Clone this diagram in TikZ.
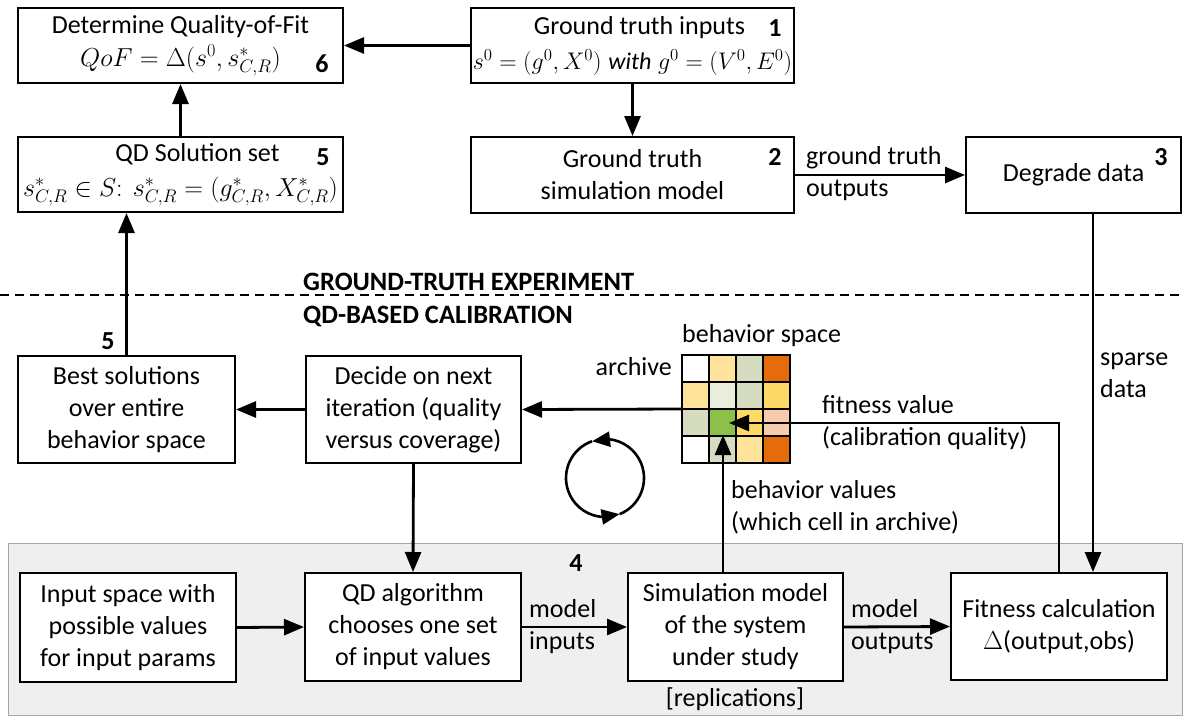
\RequirePackage{fix-cm}
\documentclass[tikz,border=0pt]{standalone}
\usepackage{fontspec}
\setmainfont{Carlito}
\usetikzlibrary{arrows.meta,calc,bending}
\definecolor{lor}{HTML}{FFE39B}
\definecolor{gg}{HTML}{D6DCBF}
\definecolor{vlg}{HTML}{E9EDDC}
\definecolor{dor}{HTML}{E46C0A}
\definecolor{yel}{HTML}{FFD966}
\definecolor{pch}{HTML}{F8CBAD}
\definecolor{grn}{HTML}{8CC04B}
\definecolor{panelfill}{HTML}{EFEFEF}
\definecolor{paneldraw}{HTML}{A6A6A6}
\begin{document}
\begin{tikzpicture}[x=1pt,y=-1pt,
  every node/.style={font=\fontsize{26}{32}\selectfont},
  box/.style={draw, line width=2pt, fill=white, inner sep=0pt, align=center},
  arr/.style={line width=2.8pt, -{Triangle[length=20pt,width=16pt]}},
  carr/.style={line width=2.6pt, -{Triangle[length=18pt,width=15pt,flex]}},
  num/.style={font=\fontsize{26}{32}\selectfont\bfseries, inner sep=0pt},
  lbl/.style={align=left, anchor=west, inner sep=0pt},
  ttl/.style={font=\fontsize{26.5}{32}\selectfont\bfseries, anchor=west, inner sep=0pt},
]
\useasboundingbox (0,0) rectangle (1183,716);

% panel of step 4
\draw[draw=paneldraw, fill=panelfill, line width=1pt] (8,543) rectangle (1182,715);

% dashed separator
\draw[line width=1.5pt, dash pattern=on 9pt off 6pt] (0,295) -- (1183,295);
\node[ttl] (t1) at (303,282) {GROUND-TRUTH EXPERIMENT};
\node[ttl] (t2) at (303,316) {QD-BASED CALIBRATION};

% top boxes
\node[box, minimum width=325, minimum height=75] (b6) at (180.5,45.5)
  {Determine Quality-of-Fit\\[1pt]$QoF=\Delta(s^0{,}\,s^*_{C,R})$};
\node[box, minimum width=323, minimum height=75] (b1) at (632.5,45.5)
  {\hspace*{14pt}Ground truth inputs\\[3pt]{\fontsize{24}{30}\selectfont$s^0=(g^0{,}\,X^0)\;\mathit{with}\;g^0=(V^0{,}\,E^0)$}};
\node[box, minimum width=325, minimum height=75] (b5) at (180.5,174.5)
  {\hspace*{34pt}QD Solution set\\[3pt]$s^*_{C,R}\in S\colon\ s^*_{C,R}=(g^*_{C,R}{,}\,X^*_{C,R})$};
\node[box, minimum width=323, minimum height=76] (b2) at (632.5,175)
  {Ground truth\\simulation model};
\node[box, minimum width=215, minimum height=76] (b3) at (1073.5,175)
  {Degrade data};

\node[num] (n6) at (322,64) {6};
\node[num] (n1) at (775,28) {1};
\node[num] (n5a) at (323,157) {5};
\node[num] (n2) at (775,157) {2};
\node[num] (n3) at (1161,157) {3};
\node[num] (n5b) at (108,341) {5};
\node[num] (n4) at (576,563) {4};

% middle boxes
\node[box, minimum width=217, minimum height=107] (best) at (126.5,409.5)
  {Best solutions\\over entire\\behavior space};
\node[box, minimum width=215, minimum height=107] (decide) at (413.5,409.5)
  {Decide on next\\iteration (quality\\versus coverage)};

% archive grid
\node[minimum width=108, minimum height=108, inner sep=0pt] (grid) at (736,409) {};
\foreach \row [count=\r from 0] in {{white,lor,gg,dor},{lor,vlg,gg,yel},{gg,grn,yel,pch},{white,gg,lor,dor}} {
  \foreach \c [count=\i from 0] in \row {
    \fill[\c] ({682+27*\i},{355+27*\r}) rectangle ++(27,27);
  }
}
\foreach \k in {0,...,4} {
  \draw[line width=2pt] ({682+27*\k},355) -- ++(0,108);
  \draw[line width=2pt] (682,{355+27*\k}) -- ++(108,0);
}
\draw[line width=2pt] (682,355) rectangle (790,463);
\node[anchor=east, inner sep=0pt] (lar) at (672,367) {archive};
\node[lbl] (lbs) at (682,336) {behavior space};

% cycle symbol
\coordinate (cyc) at (605,478);
\draw[carr] ($(cyc)+(68:39)$) arc[start angle=68, end angle=-109.4, radius=39];
\draw[carr] ($(cyc)+(250.6:39)$) arc[start angle=250.6, end angle=68, radius=39];

% bottom boxes
\node[box, minimum width=216, minimum height=109] (input) at (128,627.5)
  {Input space with\\possible values\\for input params};
\node[box, minimum width=216, minimum height=108] (qd) at (413,627)
  {QD algorithm\\chooses one set\\of input values};
\node[box, minimum width=215, minimum height=108] (sim) at (735.5,627)
  {Simulation model\\of the system\\under study};
\node[box, minimum width=216, minimum height=107] (fit) at (1059,626.5)
  {Fitness calculation\\$\Delta$(output,obs)};
\node[inner sep=0pt] (rep) at (735,699) {[replications]};

% connectors
\coordinate (sx) at (1093,0);
\coordinate (gt) at (729,423);
\coordinate (gb) at (723,435);

\draw[arr] (b1.west) -- (b6.east);
\draw[arr] (b1.south) -- (b2.north);
\draw[arr] (b5.north) -- (b6.south);
\draw[arr] (b2.east) -- (b3.west);
\draw[arr] (best.north) -- (best.north |- b5.south);
\draw[arr] (b3.south -| sx) -- (fit.north -| sx);
\draw[arr] (grid.west) -- (decide.east);
\draw[arr] (decide.west) -- (best.east);
\draw[arr] (decide.south) -- (qd.north);
\draw[arr] (input.east) -- (qd.west);
\draw[arr] (qd.east) -- (sim.west);
\draw[arr] (sim.east) -- (fit.west);
\draw[arr] (fit.north) |- (gt);
\draw[arr] (sim.north -| gb) -- (gb);

% connector labels
\node[lbl] (lgo) at (806,174) {ground truth\\outputs};
\node[lbl] (lsd) at (1100,375) {sparse\\data};
\node[lbl] (lfv) at (822,423) {fitness value\\(calibration quality)};
\node[lbl] (lbv) at (731,507) {behavior values\\(which cell in archive)};
\node[lbl] (lmi) at (529,627) {model\\inputs};
\node[lbl] (lmo) at (851,627) {model\\outputs};
\end{tikzpicture}
\end{document}
